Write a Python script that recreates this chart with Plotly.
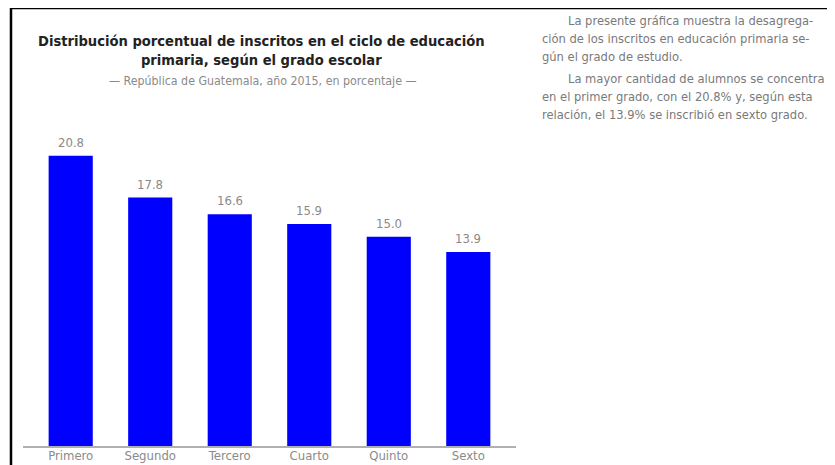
import plotly.graph_objects as go

grados = ["Primero", "Segundo", "Tercero", "Cuarto", "Quinto", "Sexto"]
porcentajes = [20.8, 17.8, 16.6, 15.9, 15.0, 13.9]
etiquetas = ["20.8", "17.8", "16.6", "15.9", "15.0", "13.9"]

W, H = 835, 465
OFF = 8  # page body margin offset
# plot area in window pixels: left 23, right 515.7, top 139, bottom 446
ML = 23 - OFF
MT = 139 - OFF
MB = H - (446 - OFF)
MR = W - (515.7 - OFF)
PW = W - ML - MR
PH = H - MT - MB

def px_x(x):
    return (x - OFF - ML) / PW

def px_y(y):
    return (H - MB - (y - OFF)) / PH

FONT = "DejaVu Sans Condensed, sans-serif"
GRAY = "#8a8a8a"

fig = go.Figure(go.Bar(
    x=grados, y=porcentajes,
    marker=dict(color="#0000ff", line=dict(width=0)),
    width=0.555,
))

for g, v, t in zip(grados, porcentajes, etiquetas):
    fig.add_annotation(x=g, y=v, text=t, showarrow=False, yanchor="bottom",
                       yshift=4, font=dict(family=FONT, size=13, color=GRAY))

fig.update_layout(
    width=W, height=H,
    margin=dict(l=ML, r=MR, t=MT, b=MB),
    paper_bgcolor="white", plot_bgcolor="white",
    showlegend=False,
    xaxis=dict(range=[-0.6, 5.6], showline=True, linecolor="#b0b0b0", linewidth=1.5,
               ticks="", showgrid=False, automargin=False, ticklabelstandoff=-3,
               tickfont=dict(family=FONT, size=13, color=GRAY)),
    yaxis=dict(range=[0, 22], visible=False, showgrid=False),
)

# frame lines
fig.add_shape(type="line", xref="paper", yref="paper",
              x0=px_x(10), x1=px_x(850), y0=px_y(8), y1=px_y(8),
              line=dict(color="black", width=2.5))
fig.add_shape(type="line", xref="paper", yref="paper",
              x0=px_x(11), x1=px_x(11), y0=px_y(8), y1=px_y(480),
              line=dict(color="black", width=2.5))

# title
fig.add_annotation(xref="paper", yref="paper", x=px_x(261), y=px_y(50),
                   text="<b>Distribución porcentual de inscritos en el ciclo de educación<br>primaria, según el grado escolar</b>",
                   showarrow=False, xanchor="center", yanchor="middle",
                   font=dict(family="DejaVu Sans Condensed, sans-serif", size=14.6, color="#222"))
fig.add_annotation(xref="paper", yref="paper", x=px_x(263), y=px_y(81),
                   text="— República de Guatemala, año 2015, en porcentaje —",
                   showarrow=False, xanchor="center", yanchor="middle",
                   font=dict(family=FONT, size=12.3, color=GRAY))

# side text
lineas = [
    (566, 20, "La presente gráfica muestra la desagrega-"),
    (540, 38, "ción de los inscritos en educación primaria se-"),
    (540, 56, "gún el grado de estudio."),
    (566, 79, "La mayor cantidad de alumnos se concentra"),
    (540, 97, "en el primer grado, con el 20.8% y, según esta"),
    (540, 115, "relación, el 13.9% se inscribió en sexto grado."),
]
for x, y, t in lineas:
    fig.add_annotation(xref="paper", yref="paper", x=px_x(x), y=px_y(y),
                       text=t, showarrow=False, xanchor="left", yanchor="middle",
                       font=dict(family=FONT, size=12.8, color="#7a7a7a"))

fig.write_html("out.html")
